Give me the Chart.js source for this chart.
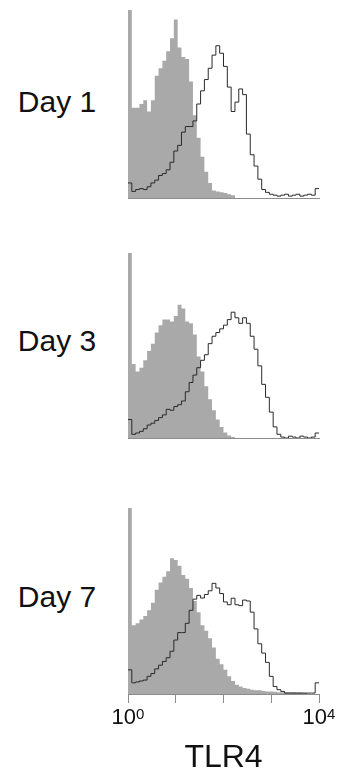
<!DOCTYPE html>
<html>
<head>
<meta charset="utf-8">
<script src="https://cdn.jsdelivr.net/npm/chart.js@4.4.1/dist/chart.umd.min.js"></script>
<style>
  body { margin: 0; background: #fff; }
  #wrap { position: relative; width: 339px; height: 777px; font-family: "Liberation Sans", Arial, sans-serif; }
  .day { position: absolute; left: 0; width: 114px; text-align: center; font-size: 30px; line-height: 30px; color: #111; }
  canvas { position: absolute; left: 0; }
</style>
</head>
<body>
<div id="wrap">
  <div class="day" style="top:87px">Day 1</div>
  <div class="day" style="top:326px">Day 3</div>
  <div class="day" style="top:582px">Day 7</div>
  <canvas id="day1" width="339" height="190" style="top:10px"></canvas>
  <canvas id="day3" width="339" height="187" style="top:253px"></canvas>
  <canvas id="day7" width="339" height="269" style="top:508px"></canvas>
</div>
<script>
// channel edges, log10 of fluorescence (10^0 .. 10^4)
const channels = [0, 0.08, 0.16, 0.24, 0.32, 0.4, 0.48, 0.56, 0.64, 0.72, 0.8, 0.88, 0.96, 1.04, 1.12, 1.2,
  1.28, 1.36, 1.44, 1.52, 1.6, 1.68, 1.76, 1.84, 1.92, 2, 2.08, 2.16, 2.24, 2.32, 2.4, 2.48, 2.56, 2.64,
  2.72, 2.8, 2.88, 2.96, 3.04, 3.12, 3.2, 3.28, 3.36, 3.44, 3.52, 3.6, 3.68, 3.76, 3.84, 3.92, 4];

// % of max, grey = isotype control, line = TLR4
const day1Iso = [100, 48, 48, 50, 52, 46, 52, 65, 69, 73, 78, 85, 95, 80, 75, 74, 62, 44, 32, 22,
  14, 8, 4, 3.5, 3, 2.7, 2, 1.5, 0, 0, 0, 0, 0, 0, 0, 0, 0, 0, 0, 0, 0, 0, 0, 0, 0, 0, 0, 0, 0, 0];
const day1Tlr4 = [8, 3.5, 4.5, 5, 4.5, 6, 8, 9.5, 12, 13, 15, 19, 25, 28, 35, 38, 38, 41, 50, 57,
  63, 69, 76, 81, 77, 70, 59, 46, 51, 58, 55, 34, 23, 17, 10, 4.5, 3, 2, 1.5, 1,
  1.5, 2, 1, 1.5, 2, 1, 1.5, 2, 1.5, 5];

const day3Iso = [100, 40, 36, 38, 42, 47, 51, 57, 61, 64, 64, 63, 66, 72, 70, 63, 62, 56, 44, 36,
  28, 21, 15, 10, 6, 3, 1.3, 0.5, 0, 0, 0, 0, 0, 0, 0, 0, 0, 0, 0, 0, 0, 0, 0, 0, 0, 0, 0, 0, 0, 0];
const day3Tlr4 = [10, 2, 2.7, 3.6, 5, 7, 8, 9.5, 11, 12.5, 15.5, 15, 17, 18, 20, 25, 30, 34, 38, 42,
  45, 51, 55, 57, 59, 61, 64, 68, 65, 62, 65, 62, 55, 48, 39, 29, 22, 14, 6, 2,
  0.5, 0, 1, 0.5, 0, 1, 0.5, 0, 0.5, 2.7];

const day7Iso = [100, 37, 38, 40, 42, 45, 49, 56, 60, 63, 66, 73, 72, 69, 64, 62, 57, 50, 44, 37,
  34, 30, 25, 19, 16, 13, 9.5, 7, 5, 4, 3.2, 2.8, 2.3, 2, 2, 1.6, 1.4, 1.4, 1.2, 1,
  1, 1, 0.9, 0.9, 0.8, 0.8, 0.5, 0, 0, 0];
const day7Tlr4 = [13, 6, 6.5, 7, 7.5, 9.5, 11, 13.5, 15.5, 17.5, 19.5, 23, 29, 33, 33, 38, 45, 51, 53, 51.6,
  53.5, 55.5, 59.5, 57, 54, 49.5, 48, 51.5, 48, 47.5, 50.5, 50, 44, 35, 27, 22, 17, 9.5, 4, 2.3,
  1.4, 0.5, 0.5, 0.5, 0.5, 0.5, 0.5, 0.5, 0.5, 6];

// labelled decades: value -> exponent
const tickValues = [0, 4];
const tickExponents = ['0', '4'];
const axisTitle = 'TLR4';

Chart.defaults.font.family = '"Liberation Sans", Arial, sans-serif';
Chart.defaults.color = '#111';

// each value holds until the next channel edge
function toSteps(vals) {
  return channels.map((x, i) => ({ x: x, y: vals[Math.min(i, vals.length - 1)] }));
}

// "10" with a raised exponent under the labelled ticks
const decadeLabels = {
  id: 'decadeLabels',
  afterDraw(chart, args, opts) {
    if (!opts.show) return;
    const sc = chart.scales.x;
    const c = chart.ctx;
    const top = chart.chartArea.bottom + 14;
    c.save();
    c.fillStyle = '#111';
    c.textBaseline = 'alphabetic';
    c.textAlign = 'left';
    tickValues.forEach((v, i) => {
      const px = sc.getPixelForValue(v);
      c.font = '22px "Liberation Sans", Arial, sans-serif';
      const wBase = c.measureText('10').width;
      c.font = '15px "Liberation Sans", Arial, sans-serif';
      const wExp = c.measureText(tickExponents[i]).width;
      const x0 = px - (wBase + wExp) / 2;
      c.font = '22px "Liberation Sans", Arial, sans-serif';
      c.fillText('10', x0, top + 16);
      c.font = '15px "Liberation Sans", Arial, sans-serif';
      c.fillText(tickExponents[i], x0 + wBase, top + 10.5);
    });
    c.restore();
  }
};

function makeHisto(id, iso, tlr4, withAxis) {
  const ctx = document.getElementById(id).getContext('2d');
  return new Chart(ctx, {
    type: 'line',
    data: {
      datasets: [{
        label: 'TLR4',
        data: toSteps(tlr4),
        stepped: true,
        borderColor: '#2a2a2a',
        borderWidth: 1,
        pointRadius: 0,
        fill: false
      }, {
        label: 'Isotype',
        data: toSteps(iso),
        stepped: true,
        borderColor: 'rgba(0,0,0,0)',
        borderWidth: 0,
        backgroundColor: '#a9a9a9',
        pointRadius: 0,
        fill: 'origin'
      }]
    },
    options: {
      responsive: false,
      animation: false,
      devicePixelRatio: 1,
      layout: { padding: { left: 128, right: 20, top: 0, bottom: withAxis ? 0 : 2 } },
      plugins: {
        legend: { display: false },
        tooltip: { enabled: false },
        decadeLabels: { show: withAxis }
      },
      scales: {
        x: {
          type: 'linear',
          min: 0,
          max: 4,
          border: { display: true, color: '#8c8c8c', width: 1 },
          grid: { display: withAxis, drawOnChartArea: false, drawTicks: withAxis, tickLength: 9, color: '#8c8c8c' },
          ticks: { display: false, stepSize: 1 },
          title: {
            display: withAxis,
            text: axisTitle,
            font: { size: 32 },
            color: '#111',
            padding: { top: 0, bottom: 0 }
          },
          afterFit: (scale) => { scale.height = withAxis ? 83 : 0; }
        },
        y: { display: false, min: 0, max: 100 }
      }
    },
    plugins: [decadeLabels]
  });
}

makeHisto('day1', day1Iso, day1Tlr4, false);
makeHisto('day3', day3Iso, day3Tlr4, false);
makeHisto('day7', day7Iso, day7Tlr4, true);
</script>
</body>
</html>
